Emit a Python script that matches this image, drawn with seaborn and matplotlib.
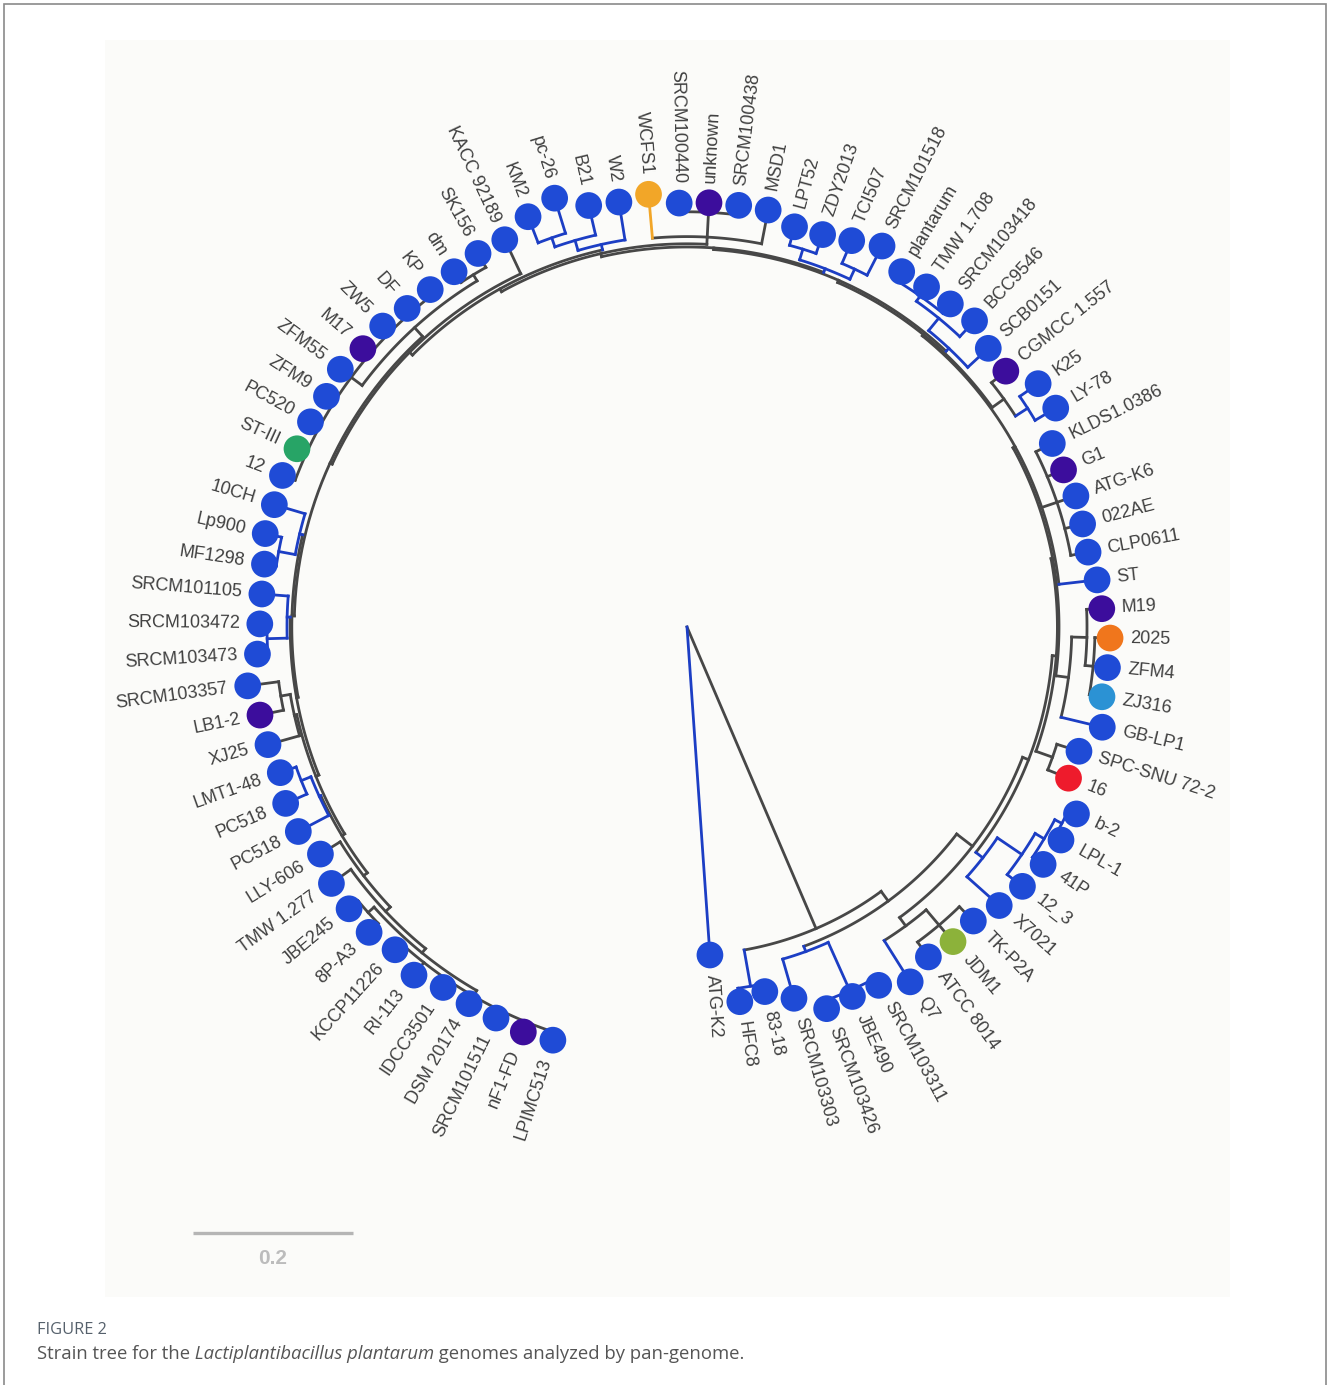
import numpy as np
import pandas as pd
import matplotlib
matplotlib.use("Agg")
import matplotlib.pyplot as plt
from matplotlib.patches import Rectangle
import seaborn as sns

# ------------------------------------------------------------------
# tips, in drawing order (counter-clockwise from the ATG-K2 outgroup)
# ------------------------------------------------------------------
strains = ["ATG-K2", "HFC8", "83-18", "SRCM103303", "SRCM103426", "JBE490",
           "SRCM103311", "Q7", "ATCC 8014", "JDM1", "TK-P2A", "X7021", "12_3",
           "41P", "LPL-1", "b-2", "16", "SPC-SNU 72-2", "GB-LP1", "ZJ316", "ZFM4",
           "2025", "M19", "ST", "CLP0611", "022AE", "ATG-K6", "G1", "KLDS1.0386",
           "LY-78", "K25", "CGMCC 1.557", "SCB0151", "BCC9546", "SRCM103418",
           "TMW 1.708", "plantarum", "SRCM101518", "TCI507", "ZDY2013", "LPT52",
           "MSD1", "SRCM100438", "unknown", "SRCM100440", "WCFS1", "W2", "B21",
           "pc-26", "KM2", "KACC 92189", "SK156", "dm", "KP", "DF", "ZW5", "M17",
           "ZFM55", "ZFM9", "PC520", "ST-III", "12", "10CH", "Lp900", "MF1298",
           "SRCM101105", "SRCM103472", "SRCM103473", "SRCM103357", "LB1-2", "XJ25",
           "LMT1-48", "PC518", "PC518", "LLY-606", "TMW 1.277", "JBE245", "8P-A3",
           "KCCP11226", "RI-113", "IDCC3501", "DSM 20174", "SRCM101511", "nF1-FD",
           "LPIMC513"]

# root-to-tip distance (tree units, read with the 0.2 scale bar)
tip_depth = [0.411, 0.473, 0.466, 0.483, 0.508, 0.506, 0.508, 0.524, 0.511, 0.515,
             0.513, 0.523, 0.530, 0.535, 0.538, 0.540, 0.513, 0.514, 0.534, 0.526,
             0.528, 0.529, 0.519, 0.516, 0.510, 0.511, 0.513, 0.510, 0.511, 0.536,
             0.534, 0.511, 0.513, 0.525, 0.521, 0.520, 0.519, 0.535, 0.525, 0.519,
             0.518, 0.531, 0.531, 0.531, 0.530, 0.543, 0.538, 0.541, 0.561, 0.550,
             0.535, 0.535, 0.531, 0.530, 0.530, 0.535, 0.534, 0.540, 0.535, 0.536,
             0.536, 0.540, 0.538, 0.540, 0.534, 0.533, 0.534, 0.538, 0.554, 0.545,
             0.544, 0.540, 0.548, 0.549, 0.539, 0.548, 0.550, 0.551, 0.544, 0.553,
             0.544, 0.544, 0.544, 0.546, 0.543]

# colour of the terminal branch: b = blue, k = grey, o = orange
tip_branch = ("bbbbbbbb" + "kkk" + "bbbbb" + "kk" + "b" + "kkkk" + "b" + "kkkkk"
              + "bb" + "k" + "bbbbbbbbb" + "kkkk" + "o" + "bbbb" + "kkkkkkkkkkkk"
              + "bbbbbb" + "kkk" + "bbb" + "kkkkkkkkkkk")

# dot colours (all others are blue)
dot_highlight = {"JDM1": "lime", "16": "red", "ZJ316": "sky", "2025": "orange",
                 "M19": "indigo", "G1": "indigo", "CGMCC 1.557": "indigo",
                 "unknown": "indigo", "WCFS1": "gold", "M17": "indigo",
                 "ST-III": "green", "LB1-2": "indigo", "nF1-FD": "indigo"}
dot_palette = {"blue": "#1f4bd6", "indigo": "#3c0d9c", "gold": "#f2a628",
               "orange": "#f0761c", "sky": "#2b92d4", "red": "#ee1b2c",
               "lime": "#8cb23a", "green": "#27a466"}

# ------------------------------------------------------------------
# internal nodes: backbone clades run from spine_first to the last tip
# ------------------------------------------------------------------
spine_first = [1, 3, 7, 11, 16, 18, 23, 29, 32, 37, 41, 46, 50, 51, 62, 65,
               68, 71, 74, 75, 76, 78]
spine_depth = [0.410, 0.425, 0.450, 0.458, 0.463, 0.465, 0.468, 0.470,
               0.473, 0.475, 0.479, 0.483, 0.488, 0.491, 0.494, 0.496, 0.500,
               0.504, 0.510, 0.518, 0.525, 0.533]

# smaller clades hanging off the backbone
side_first = [1, 3, 4, 7, 8, 11, 12, 13, 14, 16, 18, 19, 19, 24, 29, 29, 32, 33, 34,
              37, 37, 39, 41, 42, 46, 47, 48, 51, 51, 53, 62, 63, 65, 66, 68, 68,
              71, 71, 76]
side_last = [2, 6, 6, 10, 10, 15, 15, 15, 15, 17, 22, 22, 21, 28, 31, 30, 36, 36, 36,
             40, 38, 40, 45, 44, 49, 49, 49, 61, 52, 61, 64, 64, 67, 67, 70, 69,
             73, 72, 77]
side_depth = [0.456, 0.432, 0.498, 0.463, 0.488, 0.469, 0.506, 0.519, 0.529, 0.485,
              0.481, 0.500, 0.510, 0.488, 0.488, 0.506, 0.478, 0.498, 0.506, 0.480,
              0.494, 0.494, 0.488, 0.519, 0.490, 0.503, 0.515, 0.506, 0.515, 0.523,
              0.498, 0.519, 0.500, 0.525, 0.503, 0.515, 0.506, 0.519, 0.535]
side_colour = "bbbkkbbbbkkkkkkbbbbbbbkkbbbkkkbbbbkkbbk"

scale_len = 0.2

# ------------------------------------------------------------------
# layout
# ------------------------------------------------------------------
W, H = 1330, 1385
PX = 800.0                 # pixels per tree unit
CX, CY = 687, 627          # root position in pixels
first_tip_deg, tip_step_deg = -86.0, 4.024
line_col = {"k": "#474747", "b": "#1c3ec4", "o": "#f2a628"}
LW = 2.0

sns.set_theme(style="white")
plt.rcParams["font.family"] = ["Liberation Sans", "DejaVu Sans"]

fig = plt.figure(figsize=(W / 100, H / 100), dpi=100)
fig.patch.set_facecolor("white")

left, top, right, bottom = 105, 40, 1230, 1297
ax = fig.add_axes([left / W, 1 - bottom / H, (right - left) / W, (bottom - top) / H])
ax.set_facecolor("#fbfbf9")

# ---- build the tree ----
n = len(strains)
tip_ang = np.deg2rad(first_tip_deg + tip_step_deg * np.arange(n))

firsts = [0] + spine_first + side_first
lasts = [n - 1] + [n - 1] * len(spine_first) + side_last
depths = [0.0] + spine_depth + side_depth
colours = ["k"] + ["k"] * len(spine_first) + list(side_colour)
m = len(firsts)
span = [lasts[j] - firsts[j] for j in range(m)]


def smallest_clade(a, b, skip=None):
    best = None
    for j in range(m):
        if j == skip:
            continue
        if firsts[j] <= a and b <= lasts[j] and (firsts[j], lasts[j]) != (a, b):
            if best is None or span[j] < span[best]:
                best = j
    return best


clade_parent = [smallest_clade(firsts[j], lasts[j], j) if j > 0 else None for j in range(m)]
tip_parent = [smallest_clade(i, i) for i in range(n)]

children = {j: [] for j in range(m)}
for j in range(1, m):
    children[clade_parent[j]].append(("c", j))
for i in range(n):
    children[tip_parent[i]].append(("t", i))

node_ang = [None] * m
for j in sorted(range(m), key=lambda k: span[k]):
    a = [tip_ang[k] if kind == "t" else node_ang[k] for kind, k in children[j]]
    node_ang[j] = 0.5 * (min(a) + max(a))


def radial(a, r0, r1, c):
    ax.plot([r0 * np.cos(a), r1 * np.cos(a)], [r0 * np.sin(a), r1 * np.sin(a)],
            color=line_col[c], lw=LW, solid_capstyle="projecting", zorder=1)


def arc(r, a0, a1, c):
    t = np.linspace(a0, a1, max(2, int(abs(a1 - a0) * 200)))
    ax.plot(r * np.cos(t), r * np.sin(t), color=line_col[c], lw=LW,
            solid_capstyle="projecting", zorder=1)


for j in range(m):
    if j > 0:
        radial(node_ang[j], depths[clade_parent[j]], depths[j], colours[j])
        a = [tip_ang[k] if kind == "t" else node_ang[k] for kind, k in children[j]]
        arc(depths[j], min(a), max(a), colours[j])
for i in range(n):
    radial(tip_ang[i], depths[tip_parent[i]], tip_depth[i], tip_branch[i])

# ---- tip dots ----
tips = pd.DataFrame({
    "strain": strains,
    "x": np.array(tip_depth) * np.cos(tip_ang),
    "y": np.array(tip_depth) * np.sin(tip_ang),
    "group": [dot_highlight.get(s, "blue") for s in strains],
})
sns.scatterplot(data=tips, x="x", y="y", hue="group", palette=dot_palette,
                s=370, linewidth=0, legend=False, ax=ax, zorder=3)

# ---- tip labels ----
gap = 20 / PX
for i, name in enumerate(strains):
    deg = np.rad2deg(tip_ang[i])
    r = tip_depth[i] + gap
    if 90 < deg < 270:
        rot, ha = deg - 180, "right"
    else:
        rot, ha = deg, "left"
    ax.text(r * np.cos(tip_ang[i]), r * np.sin(tip_ang[i]), name, rotation=rot,
            ha=ha, va="center", rotation_mode="anchor", fontsize=13,
            color="#404040", zorder=4)

# ---- scale bar ----
sx, sy = (193 - CX) / PX, (CY - 1233) / PX
ax.plot([sx, sx + scale_len], [sy, sy], color="#b5b5b5", lw=2.4, solid_capstyle="butt")
ax.text(sx + scale_len / 2, sy - 25 / PX, f"{scale_len:g}", ha="center", va="center",
        fontsize=15, fontweight="bold", color="#bcbcbc")

ax.set_xlim((left - CX) / PX, (right - CX) / PX)
ax.set_ylim((CY - bottom) / PX, (CY - top) / PX)
ax.set_xlabel("")
ax.set_ylabel("")
ax.set_xticks([])
ax.set_yticks([])
for s in ax.spines.values():
    s.set_visible(False)

# ---- caption and frame ----
fig.add_artist(Rectangle((4 / W, -0.02), 1322 / W, 1 - 4 / H + 0.02,
                         transform=fig.transFigure, fill=False,
                         edgecolor="#8a8a8a", lw=1.2))
fig.text(37 / W, 1 - 1330 / H, "FIGURE 2", fontsize=11.8, color="#56616c",
         family=["Open Sans", "DejaVu Sans"], va="center")

renderer = fig.canvas.get_renderer()
x = 37 / W
for part, style in [("Strain tree for the", "normal"),
                    (" Lactiplantibacillus plantarum", "italic"),
                    (" genomes analyzed by pan-genome.", "normal")]:
    t = fig.text(x, 1 - 1354 / H, part, fontsize=13.3, style=style, color="#555555",
                 family=["Open Sans", "DejaVu Sans"], va="center")
    x += t.get_window_extent(renderer).width / W

fig.savefig("out.png", dpi=100)
plt.close("all")
